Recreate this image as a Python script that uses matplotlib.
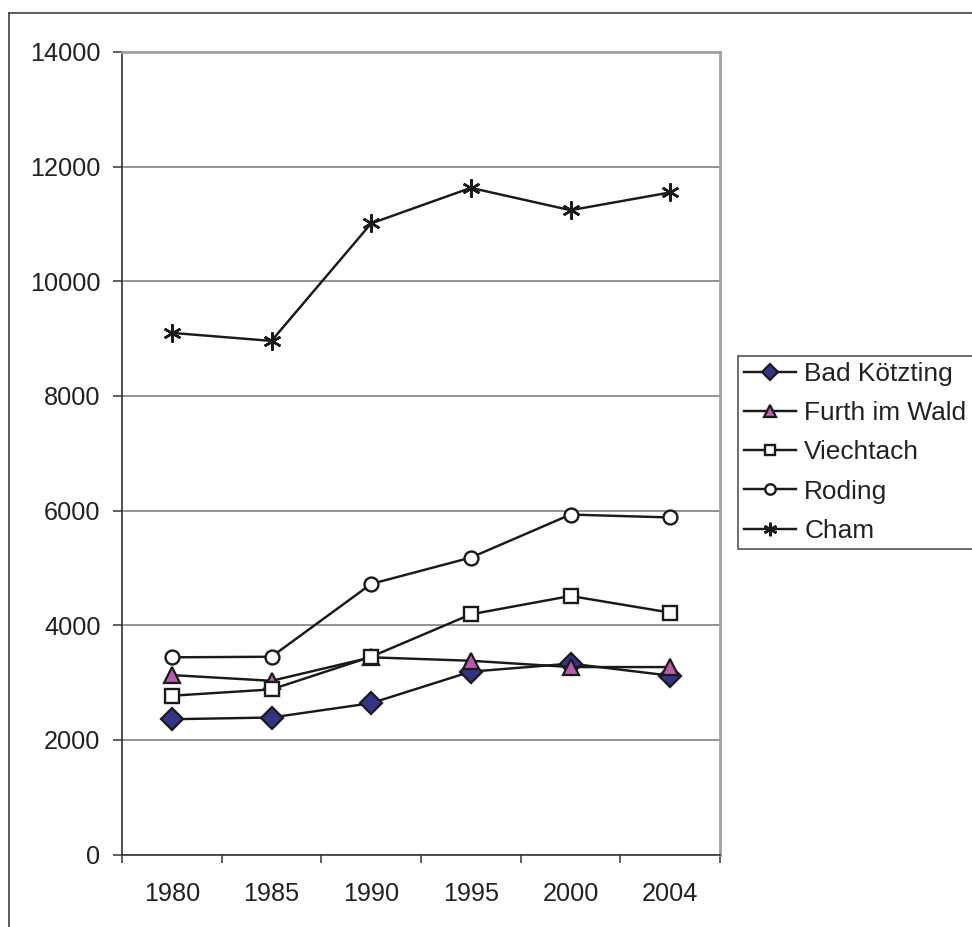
import matplotlib.pyplot as plt
from matplotlib.lines import Line2D
from matplotlib.patches import Rectangle

years = ["1980", "1985", "1990", "1995", "2000", "2004"]
bad_koetzting = [2360, 2390, 2640, 3190, 3330, 3120]
furth_im_wald = [3130, 3030, 3440, 3380, 3270, 3270]
viechtach = [2770, 2880, 3450, 4190, 4510, 4220]
roding = [3440, 3450, 4720, 5180, 5930, 5880]
cham = [9100, 8960, 11010, 11630, 11240, 11550]

plt.rcParams["font.family"] = ["Liberation Sans", "DejaVu Sans"]
FS = 18.2
LEG_FS = 18.9

fig = plt.figure(figsize=(9.72, 9.27), dpi=100)
W, H = 972, 927
ax = fig.add_axes([122 / W, (H - 854.5) / H, 598 / W, 802.5 / H])

x = list(range(len(years)))
series = [
    ("Bad Kötzting", bad_koetzting, dict(marker="D", ms=11, mfc="#333388", mec="#1a1a1a", mew=1.6)),
    ("Furth im Wald", furth_im_wald, dict(marker="^", ms=11.5, mfc="#b85aaf", mec="#1a1a1a", mew=1.6)),
    ("Viechtach", viechtach, dict(marker="s", ms=10, mfc="white", mec="#1a1a1a", mew=1.7)),
    ("Roding", roding, dict(marker="o", ms=10, mfc="white", mec="#1a1a1a", mew=1.7)),
    ("Cham", cham, dict(marker=(6, 2, 0), ms=13, mec="#1a1a1a", mew=1.8)),
]
for name, vals, style in series:
    ax.plot(x, vals, color="#1a1a1a", lw=1.75, label=name, zorder=3, **style)

ax.set_xlim(-0.5, len(years) - 0.5)
ax.set_ylim(0, 14000)
ax.set_yticks(range(0, 14001, 2000))
ax.yaxis.grid(True, color="#808080", lw=1.2)
ax.set_axisbelow(True)

# category boundaries get the tick marks, centres get the labels
ax.set_xticks([i - 0.5 for i in range(len(years) + 1)])
ax.set_xticklabels([])
ax.set_xticks(x, minor=True)
ax.set_xticklabels(years, minor=True)
ax.tick_params(axis="x", which="major", direction="out", length=6, width=1.1, color="#333333")
ax.tick_params(axis="x", which="minor", length=0, pad=20, labelsize=FS, labelcolor="#222222")
ax.tick_params(axis="y", direction="out", length=6.5, width=1.1, color="#333333",
               pad=9, labelsize=FS, labelcolor="#222222")

for side in ("left", "bottom"):
    ax.spines[side].set_color("#333333")
    ax.spines[side].set_linewidth(1.2)
for side in ("top", "right"):
    ax.spines[side].set_color("#a0a0a0")
    ax.spines[side].set_linewidth(2)

# outer chart frame, running off the right and bottom edges
fig.add_artist(Line2D([8.5 / W, 8.5 / W], [0, (H - 12.5) / H], color="#404040", lw=1.2,
                      transform=fig.transFigure))
fig.add_artist(Line2D([8.5 / W, 1.0], [(H - 12.5) / H, (H - 12.5) / H], color="#404040", lw=1.2,
                      transform=fig.transFigure))

# legend box
fig.add_artist(Rectangle((738 / W, (H - 549) / H), 260 / W, 193 / H, transform=fig.transFigure,
                         facecolor="white", edgecolor="#555555", lw=1.2, zorder=4))
handles, labels = ax.get_legend_handles_labels()
leg = fig.legend(handles, labels, loc="upper left", bbox_to_anchor=(740 / W, (H - 358) / H),
                 frameon=False, fontsize=LEG_FS, handlelength=2.0, handletextpad=0.3,
                 labelspacing=0.58, borderpad=0.15, borderaxespad=0, markerscale=0.75,
                 labelcolor="#222222")
leg.set_zorder(5)

fig.savefig("out.png", dpi=100, facecolor="white")
